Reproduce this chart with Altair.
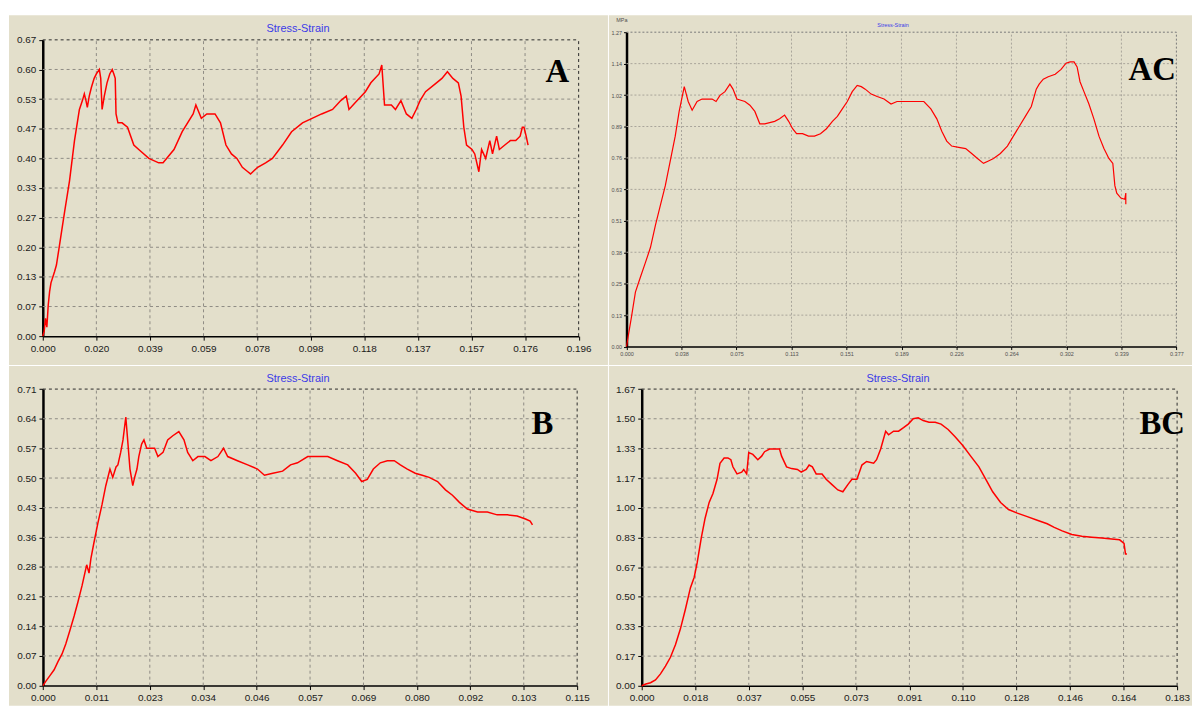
import json
import altair as alt
import pandas as pd

# ------------------------------------------------------------------ data
A_strain = [0, 0.0005, 0.001, 0.0015, 0.002, 0.0025, 0.003, 0.0043, 0.005, 0.006,
            0.007, 0.008, 0.0098, 0.0116, 0.0134, 0.0145, 0.0152, 0.0158, 0.0163, 0.017,
            0.0178, 0.0188, 0.0196, 0.0207, 0.0212, 0.0217, 0.0225, 0.0235, 0.0245, 0.0254,
            0.026, 0.0265, 0.0268, 0.0275, 0.029, 0.031, 0.0333, 0.0351, 0.0388, 0.0424,
            0.044, 0.048, 0.051, 0.055, 0.056, 0.058, 0.060, 0.063, 0.065, 0.067,
            0.069, 0.071, 0.073, 0.075, 0.076, 0.0786, 0.0815, 0.084, 0.0877, 0.091,
            0.095, 0.0985, 0.102, 0.106, 0.109, 0.111, 0.112, 0.115, 0.118, 0.120,
            0.123, 0.124, 0.125, 0.1275, 0.129, 0.131, 0.133, 0.135, 0.1366, 0.138,
            0.140, 0.144, 0.146, 0.148, 0.150, 0.152, 0.153, 0.154, 0.155, 0.157,
            0.158, 0.1595, 0.1605, 0.162, 0.1635, 0.1645, 0.166, 0.167, 0.169, 0.171,
            0.173, 0.1746, 0.1754, 0.176, 0.1768, 0.1775]
A_stress = [0, 0.01, 0.04, 0.02, 0.07, 0.10, 0.12, 0.145, 0.16, 0.20,
            0.24, 0.28, 0.35, 0.44, 0.51, 0.53, 0.545, 0.53, 0.515, 0.54,
            0.56, 0.58, 0.59, 0.60, 0.58, 0.51, 0.54, 0.57, 0.59, 0.60,
            0.59, 0.58, 0.50, 0.48, 0.48, 0.47, 0.43, 0.42, 0.40, 0.39,
            0.39, 0.42, 0.46, 0.50, 0.52, 0.49, 0.50, 0.50, 0.48, 0.43,
            0.41, 0.40, 0.38, 0.37, 0.365, 0.38, 0.39, 0.40, 0.43, 0.46,
            0.48, 0.49, 0.50, 0.51, 0.53, 0.54, 0.51, 0.53, 0.55, 0.57,
            0.59, 0.61, 0.52, 0.52, 0.51, 0.53, 0.50, 0.49, 0.51, 0.53,
            0.55, 0.57, 0.58, 0.595, 0.58, 0.57, 0.54, 0.47, 0.43, 0.42,
            0.41, 0.37, 0.42, 0.40, 0.44, 0.41, 0.45, 0.42, 0.43, 0.44,
            0.44, 0.45, 0.47, 0.47, 0.45, 0.43]

AC_strain = [0, 0.0014, 0.0034, 0.0061, 0.0095, 0.013, 0.0164, 0.0198, 0.0232, 0.0266,
             0.030, 0.0334, 0.0361, 0.0396, 0.0423, 0.045, 0.0484, 0.0518, 0.0552, 0.0587,
             0.0614, 0.0641, 0.0675, 0.0709, 0.073, 0.0757, 0.0784, 0.0812, 0.0846, 0.088,
             0.0914, 0.0948, 0.0982, 0.1016, 0.105, 0.1084, 0.1112, 0.1139, 0.1166, 0.1207,
             0.1248, 0.1289, 0.133, 0.1371, 0.1412, 0.1446, 0.148, 0.1514, 0.1548, 0.1582,
             0.161, 0.1637, 0.1678, 0.1719, 0.1766, 0.1814, 0.1855, 0.1903, 0.1971, 0.2039,
             0.2087, 0.2128, 0.2162, 0.2196, 0.223, 0.2278, 0.2326, 0.2367, 0.2407, 0.2448,
             0.2482, 0.2517, 0.2564, 0.2612, 0.2653, 0.2694, 0.2735, 0.2776, 0.281, 0.283,
             0.2858, 0.2892, 0.294, 0.298, 0.3014, 0.3042, 0.3069, 0.309, 0.311, 0.3137,
             0.3171, 0.3205, 0.324, 0.3274, 0.3308, 0.3335, 0.3349, 0.3362, 0.339, 0.3417,
             0.3424, 0.3424]
AC_stress = [0, 0.05, 0.12, 0.22, 0.28, 0.34, 0.40, 0.49, 0.57, 0.65,
             0.75, 0.85, 0.95, 1.05, 0.99, 0.955, 0.99, 1.00, 1.00, 1.00,
             0.99, 1.015, 1.03, 1.06, 1.04, 1.00, 0.995, 0.99, 0.975, 0.95,
             0.90, 0.90, 0.905, 0.91, 0.92, 0.935, 0.91, 0.88, 0.86, 0.86,
             0.85, 0.85, 0.86, 0.88, 0.91, 0.93, 0.96, 0.99, 1.03, 1.055,
             1.05, 1.04, 1.02, 1.01, 1.00, 0.98, 0.99, 0.99, 0.99, 0.99,
             0.96, 0.92, 0.87, 0.83, 0.81, 0.805, 0.80, 0.78, 0.76, 0.74,
             0.75, 0.76, 0.78, 0.81, 0.85, 0.89, 0.93, 0.97, 1.04, 1.06,
             1.08, 1.09, 1.10, 1.12, 1.145, 1.15, 1.15, 1.13, 1.07, 1.03,
             0.98, 0.92, 0.85, 0.80, 0.76, 0.74, 0.65, 0.62, 0.60, 0.595,
             0.62, 0.575]

B_strain = [0, 0.0006, 0.0015, 0.0024, 0.0032, 0.0041, 0.0049, 0.0058, 0.0067, 0.0075,
            0.0084, 0.009, 0.0094, 0.0099, 0.0103, 0.0109, 0.0118, 0.0127, 0.0135, 0.0144,
            0.015, 0.0157, 0.0161, 0.0167, 0.0172, 0.0178, 0.0182, 0.0187, 0.0193, 0.0197,
            0.0202, 0.0206, 0.0212, 0.0217, 0.0223, 0.0232, 0.024, 0.0247, 0.0258, 0.0268,
            0.0279, 0.0292, 0.0303, 0.0311, 0.0322, 0.0333, 0.0348, 0.0361, 0.0376, 0.0388,
            0.0397, 0.0418, 0.044, 0.0461, 0.0476, 0.0494, 0.0515, 0.0532, 0.0547, 0.0569,
            0.059, 0.0612, 0.0633, 0.0655, 0.0672, 0.0685, 0.0697, 0.071, 0.0725, 0.074,
            0.0755, 0.0768, 0.0783, 0.08, 0.0815, 0.083, 0.0848, 0.0865, 0.088, 0.0895,
            0.0912, 0.0934, 0.0955, 0.0976, 0.0998, 0.1019, 0.1037, 0.1047, 0.1052]
B_stress = [0, 0.01, 0.024, 0.038, 0.057, 0.076, 0.10, 0.133, 0.167, 0.20,
            0.24, 0.27, 0.29, 0.27, 0.305, 0.34, 0.39, 0.435, 0.48, 0.52,
            0.50, 0.525, 0.53, 0.56, 0.59, 0.645, 0.59, 0.52, 0.48, 0.50,
            0.52, 0.55, 0.58, 0.59, 0.57, 0.57, 0.57, 0.55, 0.56, 0.59,
            0.60, 0.61, 0.59, 0.56, 0.54, 0.55, 0.55, 0.54, 0.55, 0.57,
            0.55, 0.54, 0.53, 0.52, 0.505, 0.51, 0.515, 0.53, 0.535, 0.55,
            0.55, 0.55, 0.54, 0.53, 0.51, 0.49, 0.495, 0.52, 0.535, 0.54,
            0.54, 0.53, 0.52, 0.51, 0.505, 0.50, 0.49, 0.47, 0.457, 0.44,
            0.424, 0.417, 0.417, 0.41, 0.41, 0.407, 0.40, 0.395, 0.386]

BC_strain = [0, 0.0014, 0.003, 0.0047, 0.0064, 0.0081, 0.0098, 0.0115, 0.0132, 0.0149,
             0.0166, 0.0179, 0.0189, 0.0203, 0.0216, 0.023, 0.0243, 0.0257, 0.0267, 0.0281,
             0.0294, 0.0304, 0.0311, 0.0325, 0.0341, 0.0348, 0.0358, 0.0365, 0.0379, 0.0396,
             0.0409, 0.0419, 0.0436, 0.0453, 0.047, 0.0477, 0.0494, 0.0511, 0.0531, 0.0544,
             0.0561, 0.0571, 0.0582, 0.0595, 0.0615, 0.0629, 0.0649, 0.0669, 0.0686, 0.0703,
             0.0717, 0.0734, 0.0751, 0.0767, 0.0791, 0.0801, 0.0815, 0.0832, 0.0842, 0.0859,
             0.0876, 0.0893, 0.0909, 0.0926, 0.0943, 0.096, 0.098, 0.1001, 0.1021, 0.1045,
             0.1068, 0.1095, 0.1122, 0.115, 0.1177, 0.1197, 0.1224, 0.1251, 0.1281, 0.1315,
             0.1349, 0.1383, 0.1407, 0.1434, 0.1467, 0.1501, 0.1535, 0.1569, 0.1603, 0.1630,
             0.1645, 0.1650, 0.1655]
BC_stress = [0, 0.01, 0.017, 0.033, 0.067, 0.11, 0.16, 0.23, 0.32, 0.43,
             0.55, 0.61, 0.69, 0.83, 0.94, 1.03, 1.08, 1.16, 1.25, 1.28,
             1.28, 1.27, 1.23, 1.19, 1.20, 1.215, 1.19, 1.31, 1.30, 1.27,
             1.29, 1.315, 1.33, 1.33, 1.33, 1.29, 1.23, 1.22, 1.215, 1.20,
             1.215, 1.24, 1.23, 1.19, 1.19, 1.16, 1.13, 1.10, 1.09, 1.13,
             1.16, 1.16, 1.24, 1.26, 1.25, 1.27, 1.33, 1.43, 1.41, 1.43,
             1.43, 1.45, 1.47, 1.50, 1.505, 1.49, 1.48, 1.48, 1.47, 1.44,
             1.40, 1.35, 1.29, 1.23, 1.15, 1.09, 1.03, 0.99, 0.97, 0.95,
             0.93, 0.91, 0.89, 0.87, 0.85, 0.84, 0.835, 0.83, 0.825, 0.82,
             0.80, 0.74, 0.74]

A_xlabels = ["0.000", "0.020", "0.039", "0.059", "0.078", "0.098", "0.118", "0.137", "0.157", "0.176", "0.196"]
A_ylabels = ["0.00", "0.07", "0.13", "0.20", "0.27", "0.33", "0.40", "0.47", "0.53", "0.60", "0.67"]
AC_xlabels = ["0.000", "0.038", "0.075", "0.113", "0.151", "0.189", "0.226", "0.264", "0.302", "0.339", "0.377"]
AC_ylabels = ["0.00", "0.13", "0.25", "0.38", "0.51", "0.63", "0.76", "0.89", "1.02", "1.14", "1.27"]
B_xlabels = ["0.000", "0.011", "0.023", "0.034", "0.046", "0.057", "0.069", "0.080", "0.092", "0.103", "0.115"]
B_ylabels = ["0.00", "0.07", "0.14", "0.21", "0.28", "0.36", "0.43", "0.50", "0.57", "0.64", "0.71"]
BC_xlabels = ["0.000", "0.018", "0.037", "0.055", "0.073", "0.091", "0.110", "0.128", "0.146", "0.164", "0.183"]
BC_ylabels = ["0.00", "0.17", "0.33", "0.50", "0.67", "0.83", "1.00", "1.17", "1.33", "1.50", "1.67"]

A_steps = (0.0196, 0.06667)
AC_steps = (0.03771, 0.127)
B_steps = (0.01148, 0.0712)
BC_steps = (0.01826, 0.16667)

TITLE = "Stress-Strain"
UNIT = "MPa"

# ------------------------------------------------------------------ style
FONT = "Liberation Sans"
BEIGE = "#E3DFCB"
RED = "#FF0000"
BLUE = "#3b3be8"


def panel(strain, stress, xlabels, ylabels, steps, W, H, xr, yr, tiny,
          title_xy, letter, letter_xy, unit_xy=None):
    xstep, ystep = steps
    xmax, ymax = xstep * 10, ystep * 10
    xvals = [i * xstep for i in range(11)]
    yvals = [i * ystep for i in range(11)]
    xs = alt.Scale(domain=[0, xmax], range=list(xr), nice=False, zero=False)
    ys = alt.Scale(domain=[0, ymax], range=list(yr), nice=False, zero=False)
    lsize = 5.5 if tiny else 10
    lcol = "#505050" if tiny else "#1a1a1a"
    common = dict(title=None, grid=False, labelFontSize=lsize, labelColor=lcol,
                  labelFont=FONT, labelFlush=False, labelOverlap=False,
                  domainColor="#000000", tickColor="#000000",
                  tickSize=3 if tiny else 4, labelPadding=2 if tiny else 3)
    xaxis = alt.Axis(values=xvals,
                     labelExpr=f"{json.dumps(xlabels)}[round(datum.value / {xstep})]",
                     offset=yr[0] - H, domainWidth=1.5, **common)
    yaxis = alt.Axis(values=yvals,
                     labelExpr=f"{json.dumps(ylabels)}[round(datum.value / {ystep})]",
                     offset=-xr[0], domainWidth=2.5, **common)

    def X(f):
        return alt.X(f, scale=xs, axis=xaxis)

    def Y(f):
        return alt.Y(f, scale=ys, axis=yaxis)

    gcol = "#a8a49a" if tiny else "#8e8b84"
    gdash = [2, 2] if tiny else [3, 3]
    vgrid = pd.DataFrame({"x": xvals[1:-1], "y": [0] * 9, "y2": [ymax] * 9})
    hgrid = pd.DataFrame({"y": yvals[1:-1], "x": [0] * 9, "x2": [xmax] * 9})
    frame = pd.DataFrame({"x": [0, xmax], "x2": [xmax, xmax],
                          "y": [ymax, 0], "y2": [ymax, ymax]})

    g1 = alt.Chart(vgrid).mark_rule(color=gcol, strokeDash=gdash, strokeWidth=1).encode(
        x=X("x:Q"), y=Y("y:Q"), y2="y2")
    g2 = alt.Chart(hgrid).mark_rule(color=gcol, strokeDash=gdash, strokeWidth=1).encode(
        y=Y("y:Q"), x=X("x:Q"), x2="x2")
    fr = alt.Chart(frame).mark_rule(color="#7a7a7a" if tiny else "#2a2a2a",
                                    strokeDash=gdash, strokeWidth=1).encode(
        x=X("x:Q"), x2="x2", y=Y("y:Q"), y2="y2")

    df = pd.DataFrame({"x": strain, "y": stress, "i": list(range(len(strain)))})
    line = alt.Chart(df).mark_line(color=RED, strokeWidth=1.2 if tiny else 1.5).encode(
        x=X("x:Q"), y=Y("y:Q"), order="i:Q")

    one = pd.DataFrame({"k": [0]})
    title = alt.Chart(one).mark_text(text=TITLE, font=FONT, fontSize=5.5 if tiny else 11,
                                     color=BLUE, align="center", baseline="middle").encode(
        x=alt.value(title_xy[0]), y=alt.value(title_xy[1]))
    lab = alt.Chart(one).mark_text(text=letter, font="Liberation Serif", fontWeight="bold",
                                   fontSize=33, color="#000000", align="center",
                                   baseline="middle").encode(
        x=alt.value(letter_xy[0]), y=alt.value(letter_xy[1]))
    layers = [g1, g2, fr, line, title, lab]
    if unit_xy is not None:
        unit = alt.Chart(one).mark_text(text=UNIT, font=FONT, fontSize=5.5, color="#505050",
                                        align="center", baseline="middle").encode(
            x=alt.value(unit_xy[0]), y=alt.value(unit_xy[1]))
        layers.append(unit)
    return alt.layer(*layers).properties(width=W, height=H)


pA = panel(A_strain, A_stress, A_xlabels, A_ylabels, A_steps, 603, 352,
           (34, 573.5), (323, 24.7), False, (291, 14), "A", (552, 57))
pAC = panel(AC_strain, AC_stress, AC_xlabels, AC_ylabels, AC_steps, 587, 352,
            (17.7, 571.3), (333.5, 17), True, (286, 10), "AC", (547, 55), unit_xy=(13, 5))
pB = panel(B_strain, B_stress, B_xlabels, B_ylabels, B_steps, 603, 342,
           (34.2, 572), (321.8, 23.3), False, (291, 13), "B", (537, 59))
pBC = panel(BC_strain, BC_stress, BC_xlabels, BC_ylabels, BC_steps, 587, 342,
            (33, 572), (322, 23.3), False, (291, 13), "BC", (557, 59))

chart = alt.vconcat(
    alt.hconcat(pA, pAC, spacing=1, bounds="flush"),
    alt.hconcat(pB, pBC, spacing=1, bounds="flush"),
    spacing=1,
).properties(
    padding={"left": 1, "top": 5, "right": 0, "bottom": 0},
    background="#ffffff",
).configure_view(stroke=None, fill=BEIGE)

chart.save("out.html", embed_options={"renderer": "svg", "actions": False})
